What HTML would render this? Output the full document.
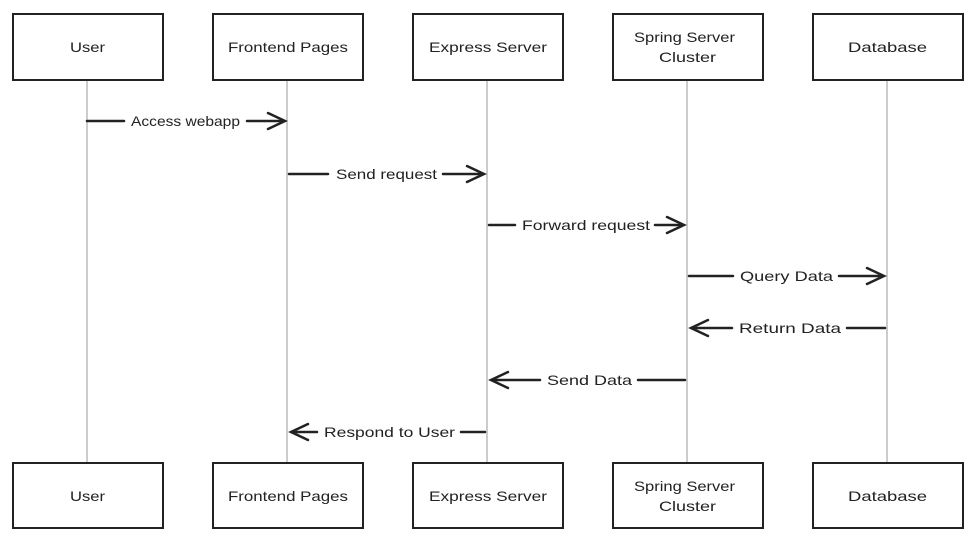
<!DOCTYPE html>
<html><head><meta charset="utf-8"><style>
html,body{margin:0;padding:0;background:#fff;}
svg{display:block;}
text{font-family:"Liberation Sans",sans-serif;font-size:14px;fill:#222;}
</style></head><body>
<svg width="974" height="546" viewBox="0 0 974 546" xmlns="http://www.w3.org/2000/svg">
<g stroke="#9a9a9a" stroke-width="1">
<line x1="87" y1="80" x2="87" y2="463"/>
<line x1="287" y1="80" x2="287" y2="463"/>
<line x1="487" y1="80" x2="487" y2="463"/>
<line x1="687" y1="80" x2="687" y2="463"/>
<line x1="887" y1="80" x2="887" y2="463"/>
</g>
<g fill="#fff" stroke="#222" stroke-width="2">
<rect x="13" y="14" width="150" height="66"/>
<rect x="213" y="14" width="150" height="66"/>
<rect x="413" y="14" width="150" height="66"/>
<rect x="613" y="14" width="150" height="66"/>
<rect x="813" y="14" width="150" height="66"/>
<rect x="13" y="463" width="150" height="65"/>
<rect x="213" y="463" width="150" height="65"/>
<rect x="413" y="463" width="150" height="65"/>
<rect x="613" y="463" width="150" height="65"/>
<rect x="813" y="463" width="150" height="65"/>
</g>
<g lengthAdjust="spacingAndGlyphs">
<text x="70" y="52" textLength="35" lengthAdjust="spacingAndGlyphs">User</text>
<text x="228" y="52" textLength="120" lengthAdjust="spacingAndGlyphs">Frontend Pages</text>
<text x="429" y="52" textLength="118" lengthAdjust="spacingAndGlyphs">Express Server</text>
<text x="634" y="42" textLength="101" lengthAdjust="spacingAndGlyphs">Spring Server</text>
<text x="659" y="62" textLength="57" lengthAdjust="spacingAndGlyphs">Cluster</text>
<text x="848" y="52" textLength="79" lengthAdjust="spacingAndGlyphs">Database</text>
<text x="70" y="501" textLength="35" lengthAdjust="spacingAndGlyphs">User</text>
<text x="228" y="501" textLength="120" lengthAdjust="spacingAndGlyphs">Frontend Pages</text>
<text x="429" y="501" textLength="118" lengthAdjust="spacingAndGlyphs">Express Server</text>
<text x="634" y="491" textLength="101" lengthAdjust="spacingAndGlyphs">Spring Server</text>
<text x="659" y="511" textLength="57" lengthAdjust="spacingAndGlyphs">Cluster</text>
<text x="848" y="501" textLength="79" lengthAdjust="spacingAndGlyphs">Database</text>
</g>
<g stroke="#222" stroke-width="2.5" fill="none" stroke-linecap="round">
<line x1="87" y1="121" x2="124" y2="121"/><line x1="247" y1="121" x2="284" y2="121"/>
<polyline points="268,113 285,121 268,129"/>
<line x1="289" y1="174" x2="328" y2="174"/><line x1="443" y1="174" x2="483" y2="174"/>
<polyline points="467,166 484,174 467,182"/>
<line x1="489" y1="225" x2="515" y2="225"/><line x1="655" y1="225" x2="683" y2="225"/>
<polyline points="667,217 684,225 667,233"/>
<line x1="689" y1="276" x2="733" y2="276"/><line x1="839" y1="276" x2="883" y2="276"/>
<polyline points="867,268 884,276 867,284"/>
<line x1="885" y1="328" x2="847" y2="328"/><line x1="732" y1="328" x2="692" y2="328"/>
<polyline points="708,320 691,328 708,336"/>
<line x1="685" y1="380" x2="638" y2="380"/><line x1="540" y1="380" x2="492" y2="380"/>
<polyline points="508,372 491,380 508,388"/>
<line x1="485" y1="432" x2="461" y2="432"/><line x1="317" y1="432" x2="292" y2="432"/>
<polyline points="308,424 291,432 308,440"/>
</g>
<g>
<text x="131" y="126" textLength="109" lengthAdjust="spacingAndGlyphs">Access webapp</text>
<text x="336" y="179" textLength="101" lengthAdjust="spacingAndGlyphs">Send request</text>
<text x="522" y="230" textLength="128" lengthAdjust="spacingAndGlyphs">Forward request</text>
<text x="740" y="281" textLength="93" lengthAdjust="spacingAndGlyphs">Query Data</text>
<text x="739" y="333" textLength="102" lengthAdjust="spacingAndGlyphs">Return Data</text>
<text x="547" y="385" textLength="85" lengthAdjust="spacingAndGlyphs">Send Data</text>
<text x="324" y="437" textLength="131" lengthAdjust="spacingAndGlyphs">Respond to User</text>
</g>
</svg>
</body></html>
